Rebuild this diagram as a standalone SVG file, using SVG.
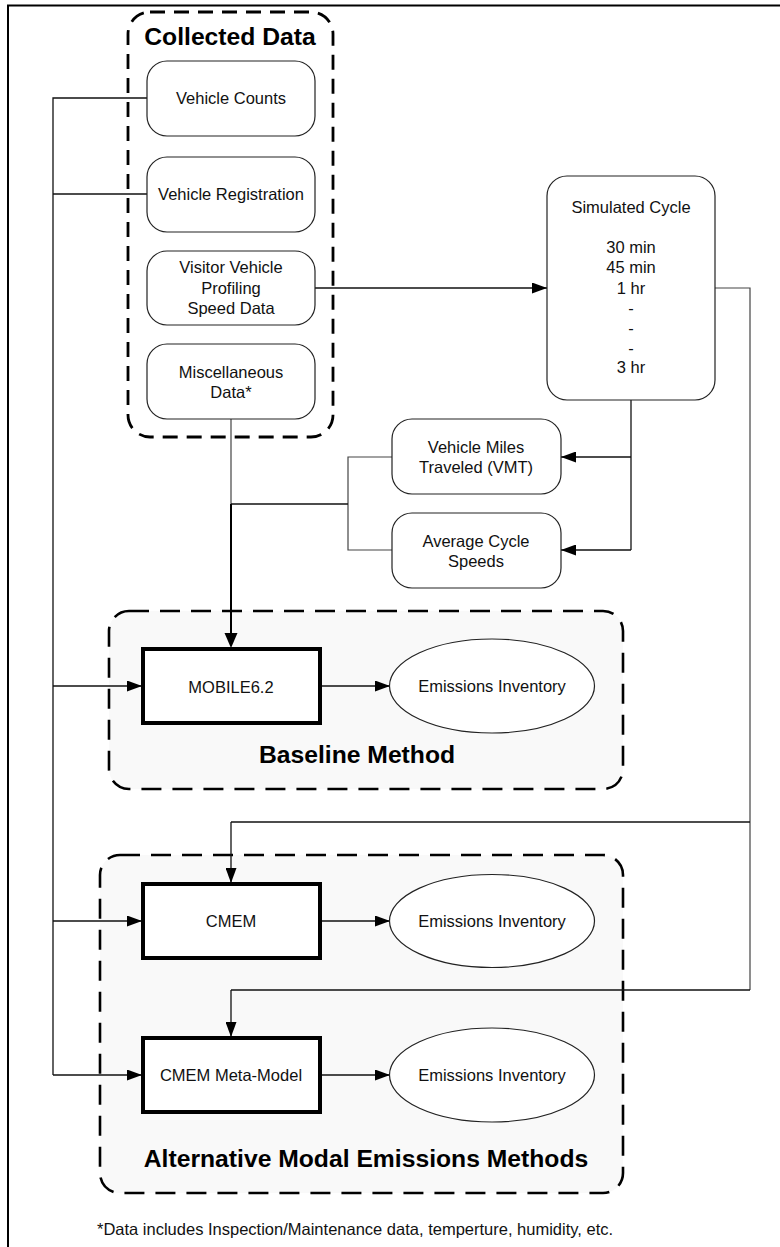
<svg xmlns="http://www.w3.org/2000/svg" width="780" height="1247" viewBox="0 0 780 1247">
<defs>
<marker id="arr" markerUnits="userSpaceOnUse" markerWidth="15" markerHeight="11" refX="15" refY="5.5" orient="auto">
<path d="M0,0 L15,5.5 L0,11 z" fill="#000"/>
</marker>
<style>
text{font-family:"Liberation Sans",Arial,sans-serif;font-size:16.5px;fill:#111;text-anchor:middle}
.title{font-weight:bold;font-size:24.7px;fill:#000}
.foot{text-anchor:start}
.rbox{fill:#fff;stroke:#222;stroke-width:1.2}
.tbox{fill:#fff;stroke:#000;stroke-width:4}
.ell{fill:#fff;stroke:#222;stroke-width:1.2}
.grp{fill:#f9f9f9;stroke:#000;stroke-width:2.6;stroke-dasharray:20 11}
.cd{fill:none;stroke:#000;stroke-width:2.8;stroke-dasharray:15 9}
.ln{fill:none;stroke:#111;stroke-width:1.3}
.lg{fill:none;stroke:#444;stroke-width:1.2}
.la{fill:none;stroke:#111;stroke-width:1.3;marker-end:url(#arr)}
</style>
</defs>
<rect width="780" height="1247" fill="#fff"/>
<path d="M8,1247 V5.5 H780" fill="none" stroke="#000" stroke-width="2"/>

<g id="baseline-method">
<rect class="grp" x="109" y="611" width="514" height="178" rx="20"/>
<text class="title" x="357" y="763">Baseline Method</text>
</g>
<g id="alternative-methods">
<rect class="grp" x="100" y="855" width="523" height="338" rx="20"/>
<text class="title" x="366" y="1167">Alternative Modal Emissions Methods</text>
</g>
<g id="collected-data">
<rect class="cd" x="128" y="12" width="205" height="425" rx="22"/>
<text class="title" x="230" y="45">Collected Data</text>
</g>

<g id="connectors">
<path class="ln" d="M147,98 H53 V1075"/>
<path class="ln" d="M147,194 H53"/>
<path class="la" d="M53,686 H142"/>
<path class="la" d="M53,921 H142"/>
<path class="la" d="M53,1075 H142"/>
<path class="la" d="M315,288 H547"/>
<path class="lg" d="M231,419 V504"/>
<path class="lg" d="M392,457 H348 V550 H392"/>
<path class="ln" d="M348,504 H231"/>
<path fill="none" stroke="#000" stroke-width="2" d="M231,504 V633"/>
<path d="M224.5,633 L231,648 L237.5,633 z" fill="#000"/>
<path class="ln" d="M631,400 V550"/>
<path class="la" d="M631,457 H561"/>
<path class="la" d="M631,550 H561"/>
<path class="lg" d="M715,288 H750 V990"/>
<path class="ln" d="M750,822 H231"/>
<path class="la" d="M231,822 V883"/>
<path class="ln" d="M750,990 H231"/>
<path class="la" d="M231,990 V1037"/>
<path class="la" d="M321,686 H390"/>
<path class="la" d="M321,921 H390"/>
<path class="la" d="M321,1075 H390"/>
</g>

<g id="vehicle-counts">
<rect class="rbox" x="147" y="61" width="168" height="75" rx="20"/>
<text x="231" y="104">Vehicle Counts</text>
</g>
<g id="vehicle-registration">
<rect class="rbox" x="147" y="157" width="168" height="75" rx="20"/>
<text x="231" y="200">Vehicle Registration</text>
</g>
<g id="visitor-vehicle">
<rect class="rbox" x="147" y="251" width="168" height="74" rx="20"/>
<text x="231" y="273">Visitor Vehicle</text>
<text x="231" y="294">Profiling</text>
<text x="231" y="314">Speed Data</text>
</g>
<g id="misc-data">
<rect class="rbox" x="147" y="344" width="168" height="75" rx="20"/>
<text x="231" y="378">Miscellaneous</text>
<text x="231" y="398">Data*</text>
</g>
<g id="simulated-cycle">
<rect class="rbox" x="547" y="176" width="168" height="224" rx="20"/>
<text x="631" y="213">Simulated Cycle</text>
<text x="631" y="253">30 min</text>
<text x="631" y="273">45 min</text>
<text x="631" y="294">1 hr</text>
<text x="631" y="314">-</text>
<text x="631" y="334">-</text>
<text x="631" y="354">-</text>
<text x="631" y="373">3 hr</text>
</g>
<g id="vmt">
<rect class="rbox" x="392" y="419" width="169" height="75" rx="20"/>
<text x="476" y="453">Vehicle Miles</text>
<text x="476" y="473">Traveled (VMT)</text>
</g>
<g id="avg-speeds">
<rect class="rbox" x="392" y="513" width="169" height="75" rx="20"/>
<text x="476" y="547">Average Cycle</text>
<text x="476" y="567">Speeds</text>
</g>
<g id="mobile">
<rect class="tbox" x="143" y="649" width="177" height="74"/>
<text x="231" y="693">MOBILE6.2</text>
</g>
<g id="ei-1">
<ellipse class="ell" cx="492" cy="686" rx="102.5" ry="47"/>
<text x="492" y="692">Emissions Inventory</text>
</g>
<g id="cmem">
<rect class="tbox" x="143" y="884" width="177" height="74"/>
<text x="231" y="927">CMEM</text>
</g>
<g id="ei-2">
<ellipse class="ell" cx="492" cy="921" rx="102.5" ry="46.5"/>
<text x="492" y="927">Emissions Inventory</text>
</g>
<g id="cmem-meta">
<rect class="tbox" x="143" y="1038" width="177" height="74"/>
<text x="231" y="1081">CMEM Meta-Model</text>
</g>
<g id="ei-3">
<ellipse class="ell" cx="492" cy="1075" rx="102.5" ry="47"/>
<text x="492" y="1081">Emissions Inventory</text>
</g>
<g id="footnote">
<text class="foot" x="97" y="1235">*Data includes Inspection/Maintenance data, temperture, humidity, etc.</text>
</g>
</svg>
